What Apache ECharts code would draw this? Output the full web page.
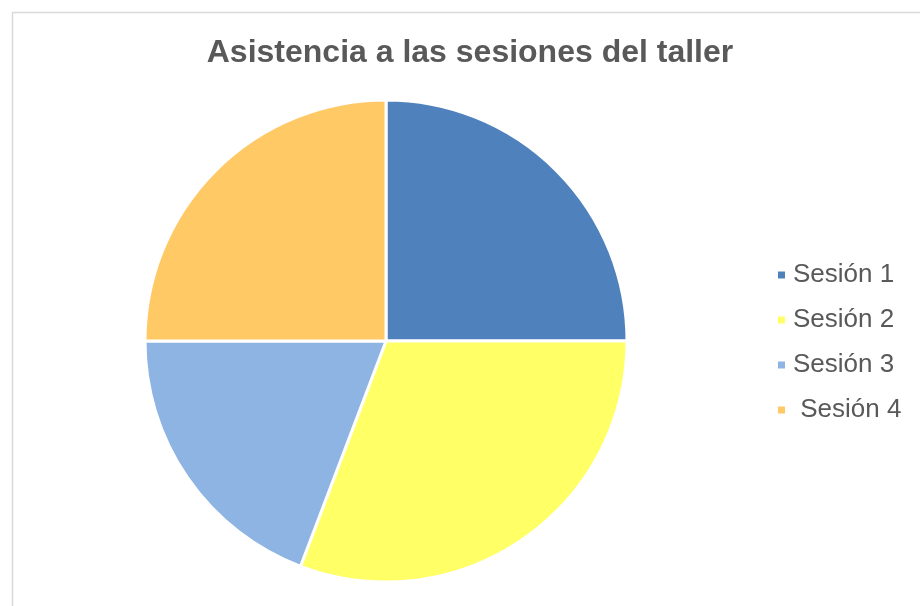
<!DOCTYPE html>
<html>
<head>
<meta charset="utf-8">
<script src="https://cdn.jsdelivr.net/npm/echarts@6/dist/echarts.min.js"></script>
<style>html,body{margin:0;padding:0;background:#fff}#c{width:920px;height:606px}</style>
</head>
<body>
<div id="c"></div>
<script>
const titleText = 'Asistencia a las sesiones del taller';
const categories = ['Sesión 1', 'Sesión 2', 'Sesión 3', ' Sesión 4'];
const values = [13, 16, 10, 13];
const colors = ['#4F81BD', '#FFFF66', '#8EB4E3', '#FFC966'];

const chart = echarts.init(document.getElementById('c'));
chart.setOption({
  animation: false,
  backgroundColor: '#fff',
  color: colors,
  graphic: [{
    type: 'rect', left: 10, top: 10, silent: true,
    shape: { x: 0, y: 0, width: 960, height: 640 },
    style: { fill: 'none', stroke: '#d9d9d9', lineWidth: 1.5 }
  }],
  title: {
    text: titleText, left: 465, top: 32, textAlign: 'center',
    textStyle: { fontFamily: 'Liberation Sans, Arial', fontSize: 32, fontWeight: 'bold', color: '#595959' }
  },
  legend: {
    orient: 'vertical', left: 776, top: 262, padding: 0,
    itemWidth: 9, itemHeight: 9, itemGap: 19, icon: 'rect',
    textStyle: { fontFamily: 'Liberation Sans, Arial', fontSize: 26, color: '#595959', padding: [0, 0, 0, 2] },
    data: categories
  },
  series: [{
    type: 'pie', center: [386, 341], radius: 241, startAngle: 90, clockwise: true,
    label: { show: false }, labelLine: { show: false },
    itemStyle: { borderColor: '#fff', borderWidth: 3 },
    data: categories.map((n, i) => ({ name: n, value: values[i] }))
  }]
});
</script>
</body>
</html>
